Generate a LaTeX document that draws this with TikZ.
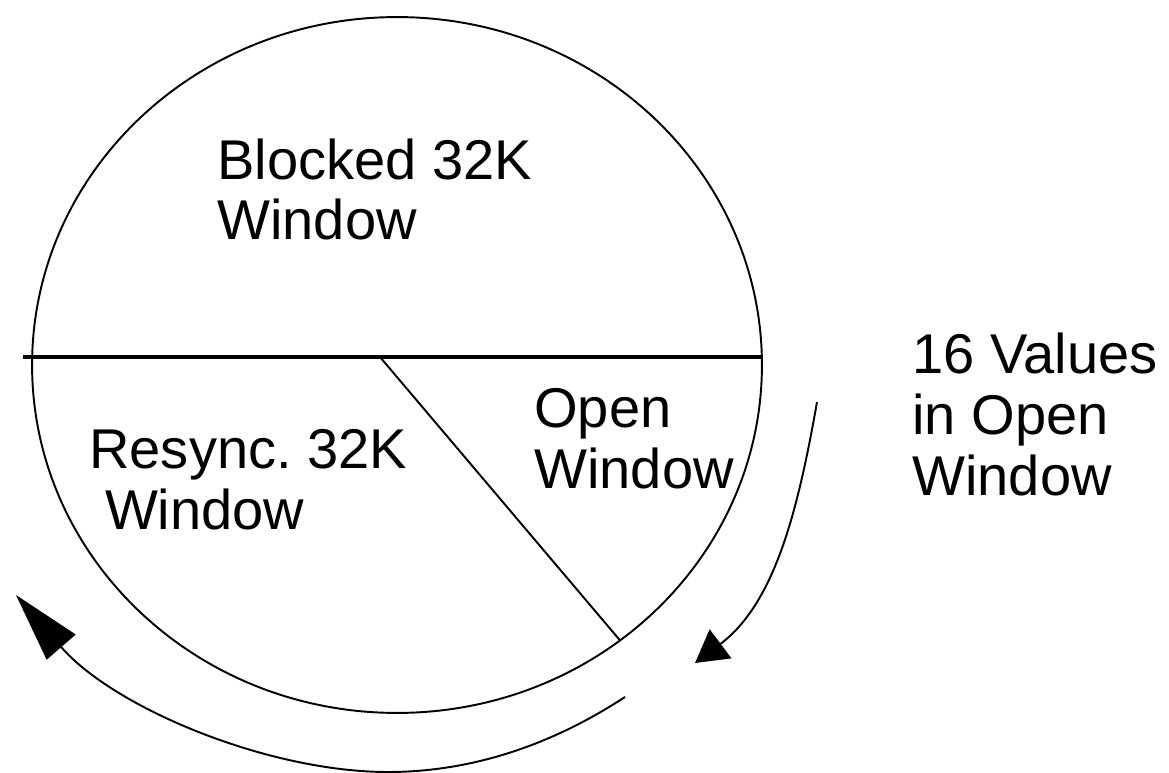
\documentclass[tikz,border=0pt]{standalone}
\usepackage{fontspec}
\setmainfont{Liberation Sans}
\usetikzlibrary{arrows.meta,shapes.geometric}
\begin{document}
\begin{tikzpicture}[x=0.02cm,y=-0.02cm,
  lbl/.style={anchor=base west,inner sep=0,align=left,font=\fontsize{31.9}{34.5}\selectfont},
  rim/.style={line width=1.1pt}]
\useasboundingbox (0,0) rectangle (1169,773);
% the counter space
\node[ellipse,draw,rim,inner sep=0,outer sep=0,minimum width=14.6cm,minimum height=13.92cm] (clock) at (397,365) {};
\coordinate (cutL) at (23,357);
\coordinate (hub) at (380,357);
\draw[line width=1.9pt] (cutL) -- (cutL -| clock.east);
\draw[rim] (hub) -- (clock.-51.5);
% windows (base = last line)
\node[lbl] (blocked) at (217,240) {Blocked 32K\\Window};
\node[lbl] (resync) at (89,529) {Resync.\ 32K\\\hspace{0.28em}Window};
\node[lbl] (open) at (534,488) {Open\\Window};
\node[lbl] (values) at (912,495) {16 Values\\in Open\\Window};
% arrows round the outside
\coordinate (fwdS) at (817,402);
\coordinate (fwdE) at (695,663);
\draw[rim,-{Triangle[length=0.64cm,width=0.72cm]}] (fwdS) .. controls (798,510) and (775,603) .. (fwdE);
\coordinate (backS) at (625,697);
\coordinate (backM) at (388,772);
\coordinate (backE) at (16,595);
\draw[rim,-{Triangle[length=1.38cm,width=0.76cm]}] (backS) .. controls (550,746) and (470,772) .. (backM) .. controls (268,772) and (114,708) .. (backE);
\end{tikzpicture}
\end{document}
